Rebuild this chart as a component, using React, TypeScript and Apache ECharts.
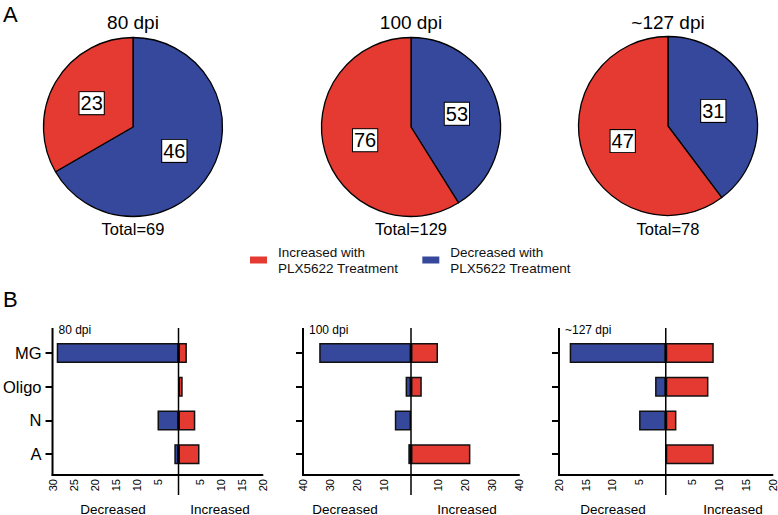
import React, { useEffect, useRef } from "react";
import * as echarts from "echarts";

const FONT = '"Liberation Sans", Arial, Helvetica, sans-serif';
const RED = "#e53a31";
const BLUE = "#35489b";

// Panel A: pie charts
const pieTitles = ["80 dpi", "100 dpi", "~127 dpi"];
const increasedCounts = [23, 76, 47];
const decreasedCounts = [46, 53, 31];
const incName = "Increased with\nPLX5622 Treatment";
const decName = "Decreased with\nPLX5622 Treatment";

// Panel B: bar charts
const cellTypes = ["MG", "Oligo", "N", "A"];
const decreased80 = [29, 0, 5, 1];
const increased80 = [2, 1, 4, 5];
const decreased100 = [34, 2, 6, 1];
const increased100 = [10, 4, 0, 22];
const decreased127 = [18, 2, 5, 0];
const increased127 = [9, 8, 2, 9];
const axisMin = [-30, -40, -20];
const axisMax = [20, 40, 20];
const axisStep = [5, 10, 5];

const decreasedSets = [decreased80, decreased100, decreased127];
const increasedSets = [increased80, increased100, increased127];

// layout
const pieCenters = [
  [133, 127],
  [411, 127],
  [668, 126],
];
const pieRadius = 89.5;
const gridLefts = [49, 303, 559];
const gridWidths = [213.5, 216, 216];
const gridTop = 336;
const gridHeight = 135;
const axisTopY = 328;
const xAxisY = 475;
const decLabelX = [113, 345, 613];
const incLabelX = [220, 467, 733];

export default function App() {
  const ref = useRef<HTMLDivElement>(null);
  useEffect(() => {
    if (!ref.current) return;
    const chart = echarts.init(ref.current, undefined, { renderer: "svg" });

    const pies: any[] = pieTitles.map((_, i) => ({
      type: "pie",
      center: pieCenters[i],
      radius: pieRadius,
      startAngle: 90,
      clockwise: true,
      silent: true,
      data: [
        { name: decName, value: decreasedCounts[i], itemStyle: { color: BLUE } },
        { name: incName, value: increasedCounts[i], itemStyle: { color: RED } },
      ],
      itemStyle: { borderColor: "#000", borderWidth: 1.3 },
      label: {
        show: true,
        position: "inside",
        formatter: "{c}",
        color: "#000",
        fontFamily: FONT,
        fontSize: 20,
        backgroundColor: "#fff",
        borderColor: "#000",
        borderWidth: 1,
        padding: [2, 1, 0, 1],
      },
      labelLine: { show: false },
      emphasis: { disabled: true },
    }));

    const grids = gridLefts.map((l, i) => ({
      left: l,
      top: gridTop,
      width: gridWidths[i],
      height: gridHeight,
    }));

    const xAxes = gridLefts.map((_, i) => ({
      type: "value",
      gridIndex: i,
      min: axisMin[i],
      max: axisMax[i],
      interval: axisStep[i],
      offset: xAxisY - (gridTop + gridHeight),
      axisLine: { show: true, onZero: false, lineStyle: { color: "#000", width: 2 } },
      axisTick: { show: false },
      splitLine: { show: false },
      axisLabel: {
        rotate: 90,
        margin: 4,
        fontSize: 11,
        color: "#000",
        fontFamily: FONT,
        formatter: (v: number) => (v === 0 ? "" : String(Math.abs(v))),
      },
    }));

    const yAxes = gridLefts.map((_, i) => ({
      type: "category",
      gridIndex: i,
      data: cellTypes,
      inverse: true,
      axisLine: { show: false, onZero: false },
      axisTick: {
        show: true,
        alignWithLabel: true,
        length: 7,
        lineStyle: { color: "#000", width: 2 },
      },
      axisLabel: {
        show: i === 0,
        margin: 11,
        fontSize: 16.5,
        color: "#000",
        fontFamily: FONT,
      },
      splitLine: { show: false },
    }));

    const bars: any[] = [];
    gridLefts.forEach((_, i) => {
      bars.push({
        type: "bar",
        name: "Decreased",
        xAxisIndex: i,
        yAxisIndex: i,
        barWidth: 20,
        barGap: "-100%",
        silent: true,
        data: decreasedSets[i].map((v) => (v === 0 ? "-" : -v)),
        itemStyle: { color: BLUE, borderColor: "#111", borderWidth: 1.5 },
      });
      bars.push({
        type: "bar",
        name: "Increased",
        xAxisIndex: i,
        yAxisIndex: i,
        barWidth: 20,
        barGap: "-100%",
        silent: true,
        data: increasedSets[i].map((v) => (v === 0 ? "-" : v)),
        itemStyle: { color: RED, borderColor: "#111", borderWidth: 1.5 },
      });
    });

    chart.setOption({
      animation: false,
      backgroundColor: "#fff",
      legend: {
        data: [incName, decName],
        left: 250,
        top: 244,
        padding: 0,
        icon: "rect",
        itemWidth: 17,
        itemHeight: 7,
        itemGap: 24,
        selectedMode: false,
        itemStyle: { borderWidth: 0 },
        textStyle: {
          fontSize: 13.5,
          lineHeight: 16,
          color: "#111",
          fontFamily: FONT,
          padding: [0, 0, 0, 6],
        },
      },
      grid: grids,
      xAxis: xAxes,
      yAxis: yAxes,
      series: [...pies, ...bars],
    });

    const txt = (
      text: string,
      x: number,
      y: number,
      size: number,
      align: string = "center"
    ) => ({
      type: "text",
      x,
      y,
      silent: true,
      style: {
        text,
        fill: "#000",
        fontSize: size,
        fontFamily: FONT,
        align,
        verticalAlign: "middle",
        textAlign: align,
        textVerticalAlign: "middle",
      },
    });

    const graphics: any[] = [];
    graphics.push(txt("A", 3, 14, 22, "left"));
    graphics.push(txt("B", 3, 299, 22, "left"));
    pieTitles.forEach((t, i) => {
      graphics.push(txt(t, pieCenters[i][0], 22, 19));
      graphics.push(
        txt(
          "Total=" + (increasedCounts[i] + decreasedCounts[i]),
          pieCenters[i][0],
          229,
          16.5
        )
      );
    });
    gridLefts.forEach((_, i) => {
      const xl = chart.convertToPixel({ xAxisIndex: i } as any, axisMin[i]) as number;
      const x0 = chart.convertToPixel({ xAxisIndex: i } as any, 0) as number;
      graphics.push({
        type: "line",
        silent: true,
        shape: { x1: xl, y1: axisTopY, x2: xl, y2: xAxisY + 1 },
        style: { stroke: "#000", lineWidth: 2 },
      });
      graphics.push({
        type: "line",
        silent: true,
        z: 10,
        shape: { x1: x0, y1: axisTopY, x2: x0, y2: 495 },
        style: { stroke: "#000", lineWidth: 1.5 },
      });
      graphics.push(txt(pieTitles[i], xl + 6, 330, 12, "left"));
      graphics.push(txt("Decreased", decLabelX[i], 509, 13.5));
      graphics.push(txt("Increased", incLabelX[i], 509, 13.5));
    });

    chart.setOption({ graphic: graphics });

    return () => chart.dispose();
  }, []);

  return (
    <div
      ref={ref}
      style={{ position: "fixed", left: 0, top: 0, width: 778, height: 515 }}
    />
  );
}
